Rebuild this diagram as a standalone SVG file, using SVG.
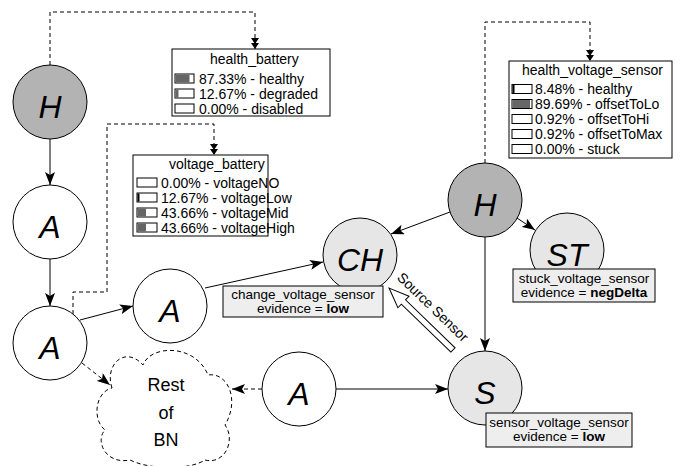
<svg xmlns="http://www.w3.org/2000/svg" width="680" height="466" viewBox="0 0 680 466">
<defs>
<style>
text{font-family:"Liberation Sans",Arial,sans-serif;fill:#000}
.lt{font-size:32px;font-style:italic;text-anchor:middle}
.t{font-size:14px}
.e{font-size:13.5px;text-anchor:middle}
.c{text-anchor:middle}
.n{stroke:#000;stroke-width:1}
.box{fill:#fff;stroke:#000;stroke-width:1}
.ev{fill:#eeeeee;stroke:#000;stroke-width:1}
.bar{fill:#fff;stroke:#000;stroke-width:1}
.fill{fill:#666}
.con{fill:none;stroke:#000;stroke-width:1}
.dash{fill:none;stroke:#000;stroke-width:1;stroke-dasharray:4,3}
</style>
<marker id="arr" markerWidth="14" markerHeight="10" refX="13" refY="5" orient="auto" markerUnits="userSpaceOnUse"><path d="M0,0 L13,5 L0,10 L3,5 Z" fill="#000"/></marker>
<marker id="arr2" markerWidth="12" markerHeight="10" refX="11" refY="5" orient="auto" markerUnits="userSpaceOnUse"><path d="M0,1 L6,5 L0,9 Z M5,1 L11,5 L5,9 Z" fill="#000"/></marker>
</defs>
<rect width="680" height="466" fill="#fff"/>

<g id="connectors">
<path class="con" d="M50,139 L50,185" marker-end="url(#arr)"/>
<path class="con" d="M50,259 L50,306" marker-end="url(#arr)"/>
<path class="con" d="M80,320 L133,306" marker-end="url(#arr)"/>
<path class="con" d="M205,288 L323,262" marker-end="url(#arr)"/>
<path class="con" d="M450,212 L391,234" marker-end="url(#arr)"/>
<path class="con" d="M517,218 L535,230" marker-end="url(#arr)"/>
<path class="con" d="M485,237 L485,351" marker-end="url(#arr)"/>
<path class="con" d="M336,389 L448,389" marker-end="url(#arr)"/>
<path class="dash" d="M262,389 L232,389" marker-end="url(#arr)"/>
<path class="dash" d="M82,363 L110,385" marker-end="url(#arr)"/>
<path class="dash" d="M50,65 L50,12 L255,12 L255,49" marker-end="url(#arr2)"/>
<path class="dash" d="M73,314 L73,292 L107,292 L107,124 L214,124 L214,155" marker-end="url(#arr2)"/>
<path class="dash" d="M485,163 L485,22 L590,22 L590,61" marker-end="url(#arr2)"/>
<g id="source-sensor">
<polygon points="0,-3 69,-3 69,-8 89,0 69,8 69,3 0,3" fill="#fff" stroke="#000" stroke-width="1" transform="translate(453,350) rotate(224.1)"/>
<text class="t c" x="433" y="312" transform="rotate(44,433,307)">Source Sensor</text>
</g>
</g>

<g id="health_battery">
<rect class="box" x="172" y="49" width="158" height="67"/>
<text class="t" x="210" y="64">health_battery</text>
<rect class="bar" x="175" y="74" width="19" height="9"/><rect class="fill" x="175.5" y="74.5" width="14" height="8"/>
<text class="t" x="199" y="83.5">87.33% - healthy</text>
<rect class="bar" x="175" y="89" width="19" height="9"/><rect class="fill" x="175.5" y="89.5" width="3" height="8"/>
<text class="t" x="199" y="98.5">12.67% - degraded</text>
<rect class="bar" x="175" y="104" width="19" height="9"/>
<text class="t" x="199" y="113.5">0.00% - disabled</text>
</g>

<g id="voltage_battery">
<rect class="box" x="133" y="155" width="135" height="81"/>
<text class="t" x="169" y="169">voltage_battery</text>
<rect class="bar" x="137" y="178" width="20" height="9"/>
<text class="t" x="161" y="187.5">0.00% - voltageNO</text>
<rect class="bar" x="137" y="193" width="20" height="9"/><rect x="137.5" y="193.5" width="2" height="8" fill="#000"/>
<text class="t" x="161" y="202.5">12.67% - voltageLow</text>
<rect class="bar" x="137" y="208" width="20" height="9"/><rect class="fill" x="137.5" y="208.5" width="8.5" height="8"/>
<text class="t" x="161" y="217.5">43.66% - voltageMid</text>
<rect class="bar" x="137" y="223" width="20" height="9"/><rect class="fill" x="137.5" y="223.5" width="8.5" height="8"/>
<text class="t" x="161" y="232.5">43.66% - voltageHigh</text>
</g>

<g id="health_voltage_sensor">
<rect class="box" x="509" y="61" width="163" height="97"/>
<text class="t" x="522" y="75">health_voltage_sensor</text>
<rect class="bar" x="512" y="84.5" width="20" height="9"/><rect x="512.5" y="85" width="2" height="8" fill="#000"/>
<text class="t" x="535" y="94">8.48% - healthy</text>
<rect class="bar" x="512" y="99.5" width="20" height="9"/><rect class="fill" x="512.5" y="100" width="17.5" height="8"/>
<text class="t" x="535" y="109">89.69% - offsetToLo</text>
<rect class="bar" x="512" y="114.5" width="20" height="9"/>
<text class="t" x="535" y="124">0.92% - offsetToHi</text>
<rect class="bar" x="512" y="129.5" width="20" height="9"/>
<text class="t" x="535" y="139">0.92% - offsetToMax</text>
<rect class="bar" x="512" y="144.5" width="20" height="9"/>
<text class="t" x="535" y="154">0.00% - stuck</text>
</g>

<g id="H-battery">
<circle class="n" cx="50" cy="102" r="37" fill="#b3b3b3"/>
<text class="lt" x="50" y="118">H</text>
</g>
<g id="A1">
<circle class="n" cx="50" cy="222" r="37" fill="#fff"/>
<text class="lt" x="50" y="238">A</text>
</g>
<g id="A2">
<circle class="n" cx="50" cy="343" r="37" fill="#fff"/>
<text class="lt" x="50" y="359">A</text>
</g>
<g id="A3">
<circle class="n" cx="170" cy="306" r="37" fill="#fff"/>
<text class="lt" x="170" y="322">A</text>
</g>
<g id="A4">
<circle class="n" cx="299" cy="389" r="37" fill="#fff"/>
<text class="lt" x="299" y="405">A</text>
</g>
<g id="rest-of-bn">
<path class="dash" d="M112,388 C104,365 125,345 143,365 C150,345 195,343 208,375 C228,372 240,400 225,425 C236,440 225,465 205,460 C190,470 150,470 130,460 C105,465 95,440 105,430 C92,420 95,392 112,388 Z" fill="#fff"/>
<text class="c" x="166" y="391" font-size="18">Rest</text>
<text class="c" x="166" y="418.5" font-size="18">of</text>
<text class="c" x="166" y="446" font-size="18">BN</text>
</g>
<g id="H-sensor">
<circle class="n" cx="485" cy="200" r="37" fill="#b3b3b3"/>
<text class="lt" x="485" y="216">H</text>
</g>
<g id="CH">
<circle class="n" cx="360" cy="255" r="37" fill="#e6e6e6"/>
<text class="lt" x="360" y="271">CH</text>
<rect class="ev" x="223" y="286" width="160" height="31"/>
<text class="e" x="303" y="299">change_voltage_sensor</text>
<text class="e" x="303" y="313">evidence = <tspan font-weight="bold">low</tspan></text>
</g>
<g id="ST">
<circle class="n" cx="567" cy="250" r="37" fill="#e6e6e6"/>
<text class="lt" x="567" y="266">ST</text>
<rect class="ev" x="513" y="269" width="142" height="33"/>
<text class="e" x="584" y="283">stuck_voltage_sensor</text>
<text class="e" x="584" y="297">evidence = <tspan font-weight="bold">negDelta</tspan></text>
</g>
<g id="S">
<circle class="n" cx="485" cy="388" r="37" fill="#e6e6e6"/>
<text class="lt" x="485" y="404">S</text>
<rect class="ev" x="486" y="413" width="146" height="34"/>
<text class="e" x="559" y="427">sensor_voltage_sensor</text>
<text class="e" x="559" y="441">evidence = <tspan font-weight="bold">low</tspan></text>
</g>
</svg>
